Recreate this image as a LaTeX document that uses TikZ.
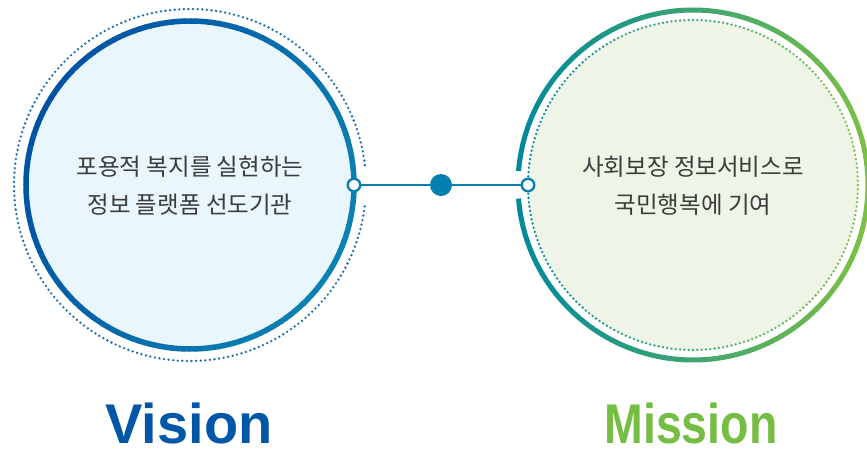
\documentclass[tikz,border=0pt]{standalone}
\usepackage{graphicx}
\usepackage{fontspec}
\setmainfont{Liberation Sans}
\newfontfamily\kr{Noto Sans CJK KR}
\definecolor{blueA}{HTML}{0053A4}
\definecolor{blueB}{HTML}{0A82B2}
\definecolor{lfill}{HTML}{E9F6FD}
\definecolor{rfill}{HTML}{EEF5E6}
\definecolor{rteal}{HTML}{00899E}
\definecolor{rgreen}{HTML}{7CC142}
\definecolor{dotblue}{HTML}{1A6DB3}
\definecolor{connc}{HTML}{0A7FB0}
\definecolor{dotc}{HTML}{0480AE}
\definecolor{txt}{HTML}{3C3C3C}
\definecolor{vblue}{HTML}{0057A8}
\definecolor{mgreen}{HTML}{76BE43}
\tikzset{
  smallring/.style={circle, draw=connc, fill=white, line width=2.4pt, minimum size=12.5pt, inner sep=0pt},
  bigdot/.style={circle, fill=dotc, minimum size=22pt, inner sep=0pt},
  conn/.style={draw=connc, line width=2.2pt},
  krtext/.style={font=\kr\fontsize{23.5}{38}\selectfont, text=txt, align=center},
  title/.style={font=\fontsize{56}{56}\selectfont\bfseries, anchor=base, inner sep=0pt, text depth=0pt}
}
\begin{document}
\begin{tikzpicture}[x=1pt,y=-1pt]
\clip (0,0) rectangle (867,451);
\fill[white] (0,0) rectangle (867,451);
\coordinate (lc) at (190,185);
\coordinate (rc) at (693,185);
% fills
\fill[lfill] (lc) circle (164);
\fill[rfill] (rc) circle (165);
% left gradient ring
\foreach \i in {0,...,179}{
  \pgfmathsetmacro\a{\i*2}
  \pgfmathtruncatemacro\t{50+50*cos(\a-25)}
  \draw[line width=5.5pt, color=blueB!\t!blueA] (lc) ++(\a:164) arc[start angle=\a, end angle=\a+2.3, radius=164];
}
% left outer dotted ring (gap at connector)
\foreach \i in {0,...,231}{
  \pgfmathsetmacro\a{7+\i*1.5}
  \fill[dotblue] (lc) ++(\a:176) circle (1.3);
}
% right gradient ring with gap at connector
\foreach \i in {0,...,174}{
  \pgfmathsetmacro\a{184.6+\i*2.004571}
  \pgfmathtruncatemacro\t{50+50*cos(\a)}
  \draw[line width=5pt, color=rgreen!\t!rteal] (rc) ++(\a:175) arc[start angle=\a, end angle=\a+2.15, radius=175];
}
% right inner dotted ring
\foreach \i in {0,...,239}{
  \pgfmathsetmacro\a{\i*1.5}
  \pgfmathtruncatemacro\t{50+50*cos(\a)}
  \fill[color=rgreen!\t!rteal] (rc) ++(\a:165) circle (1.3);
}
% connector
\node[smallring] (p1) at (354,185) {};
\node[bigdot] (p2) at (441,185) {};
\node[smallring] (p3) at (528,185) {};
\draw[conn] (p1) -- (p2);
\draw[conn] (p2) -- (p3);
% texts
\node[krtext] (lt) at (190,186) {포용적 복지를 실현하는\\정보 플랫폼 선도기관};
\node[krtext] (rt) at (693,186) {사회보장 정보서비스로\\국민행복에 기여};
\node[title, text=vblue] (vis) at (189,443) {Vision};
\node[title, text=mgreen] (mis) at (691,443) {\scalebox{0.83}[1]{Mission}};
\end{tikzpicture}
\end{document}
